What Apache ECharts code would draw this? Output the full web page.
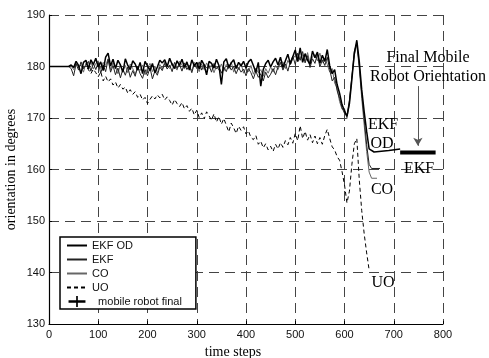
<!DOCTYPE html>
<html>
<head>
<meta charset="utf-8">
<script src="https://cdn.jsdelivr.net/npm/echarts@6/dist/echarts.min.js"></script>
<style>
	html, body { margin: 0; padding: 0; background: #fff; }
	#chart { width: 489px; height: 358px; }
</style>
</head>
<body>
<div id="chart"></div>
<script>
// Pas de temps : un point lu tous les 5 pas, de 0 à 650
var steps = [];
for (var s = 0; s <= 650; s += 5) steps.push(s);

// Orientation (degrés), une ligne = 50 pas
var ekfOd = [
	180, 180, 180, 180, 180, 180, 180, 180, 180, 180.3,
	179.8, 181.0, 180.2, 178.6, 180.8, 181.2, 179.5, 181.3, 180.4, 181.6,
	179.9, 180.9, 179.2, 181.8, 182.6, 180.1, 181.4, 179.6, 181.2, 180.3,
	178.9, 181.5, 180.2, 179.4, 181.1, 180.5, 179.3, 180.8, 178.6, 181.0,
	180.1, 179.2, 180.6, 178.8, 179.9, 181.2, 180.7, 181.3, 180.0, 181.6,
	180.4, 179.6, 181.1, 180.2, 181.4, 179.8, 180.9, 179.3, 181.3, 180.1,
	180.8, 179.5, 181.2, 180.3, 178.4, 181.0, 180.6, 179.7, 181.4, 180.2,
	176.5, 180.9, 181.5, 179.8, 180.7, 181.3, 179.6, 180.8, 180.1, 181.0,
	179.7, 180.9, 181.4, 180.2, 178.9, 180.8, 176.2, 179.4, 180.6, 181.2,
	179.9, 180.9, 181.6, 180.3, 181.8, 179.8, 181.1, 182.4, 180.5, 181.9,
	183.2, 181.0, 183.6, 180.8, 182.5, 181.2, 180.4, 183.0, 181.7, 182.8,
	180.6, 182.2, 181.0, 183.3, 180.1, 178.6, 179.4, 176.5, 174.8, 172.6,
	171.4, 170.3, 172.8, 177.5, 182.6, 185.1, 181.0, 175.5, 171.2, 167.4,
	164.0
];
var ekfOdTail = [[660, 163.4], [690, 163.7], [713, 164.0]];

var ekf = [
	180, 180, 180, 180, 180, 180, 180, 180, 180, 179.6,
	178.2, 180.5, 179.3, 180.9, 179.7, 180.2, 181.0, 179.1, 180.6, 179.4,
	180.8, 178.7, 180.3, 179.0, 181.4, 178.9, 180.2, 178.4, 179.7, 177.8,
	179.5, 178.3, 179.9, 177.9, 179.2, 178.1, 180.0, 178.6, 177.7, 179.4,
	178.2, 179.8, 177.6, 179.1, 178.3, 179.9, 179.2, 180.6, 179.5, 180.3,
	179.0, 180.8, 179.6, 180.4, 179.1, 180.7, 179.4, 180.2, 178.8, 180.5,
	179.6, 180.9, 179.3, 180.4, 179.7, 180.2, 178.9, 180.6, 179.5, 180.1,
	178.7, 179.9, 179.0, 180.4, 179.3, 180.0, 178.6, 179.8, 178.9, 179.5,
	178.2, 179.6, 178.8, 177.6, 179.1, 177.9, 178.6, 177.2, 178.9, 177.8,
	178.5, 179.6, 178.4, 179.9, 180.8, 179.3, 180.5, 179.1, 180.9, 182.0,
	180.4, 182.6, 181.2, 182.9, 180.7, 182.1, 179.8, 181.5, 180.6, 182.4,
	179.9, 181.3, 180.2, 181.8, 179.4, 177.2, 177.9, 175.3, 173.8, 172.0,
	170.9, 170.5, 173.5, 178.2, 183.0, 184.6, 180.2, 174.6, 169.8, 164.8,
	161.0
];
var ekfTail = [[655, 160.2], [672, 160.2]];

var co = [
	180, 180, 180, 180, 180, 180, 180, 180, 180, 180.1,
	179.4, 180.6, 179.9, 180.4, 178.9, 180.7, 180.0, 180.9, 179.5, 180.6,
	181.1, 179.6, 180.8, 180.2, 181.5, 179.4, 180.7, 179.9, 178.6, 180.4,
	179.1, 180.2, 178.8, 180.5, 179.6, 178.5, 179.8, 179.2, 180.3, 178.4,
	179.7, 180.6, 179.0, 180.1, 178.7, 180.4, 179.5, 180.9, 180.2, 179.6,
	180.7, 180.0, 179.3, 181.0, 180.3, 179.5, 180.6, 180.0, 179.2, 180.8,
	180.1, 179.0, 180.5, 179.4, 180.7, 179.6, 180.3, 178.8, 180.1, 179.3,
	180.5, 179.1, 180.4, 179.5, 180.9, 178.9, 180.3, 179.4, 180.6, 178.7,
	179.8, 179.0, 180.2, 178.5, 179.7, 178.8, 179.4, 178.1, 179.6, 178.7,
	179.9, 178.9, 180.2, 179.4, 180.6, 180.9, 179.6, 181.2, 180.3, 181.5,
	182.1, 180.9, 181.7, 182.3, 181.0, 182.7, 180.5, 181.9, 182.3, 181.1,
	182.6, 180.8, 181.6, 180.4, 178.9, 179.6, 176.8, 175.8, 173.2, 171.7,
	171.8, 169.9, 173.0, 177.9, 182.2, 184.2, 179.6, 173.8, 168.6, 163.5,
	159.5
];
var coTail = [[655, 158.3], [666, 158.3]];

var uo = [
	180, 180, 180, 180, 180, 180, 180, 180, 180, 180.2,
	179.7, 180.5, 179.8, 180.3, 179.6, 180.1, 179.4, 178.6, 179.5, 178.8,
	178.0, 179.0, 177.2, 178.1, 177.0, 177.6, 176.4, 177.0, 175.8, 176.5,
	175.6, 176.0, 174.8, 175.5, 174.6, 175.1, 174.0, 174.6, 173.5, 174.0,
	172.8, 173.6, 174.3, 173.7, 174.5, 173.9, 174.6, 173.5, 174.1, 173.4,
	172.5, 173.6, 172.8, 172.2, 173.0, 171.8, 172.4, 171.3, 171.9, 170.6,
	171.5, 170.1, 171.0, 169.8, 171.2, 170.4, 169.6, 170.8, 169.2, 170.3,
	168.8, 169.9, 168.6, 167.3, 169.0, 168.1, 167.0, 168.4, 167.6, 168.3,
	166.9, 167.5, 166.2, 165.8, 166.6, 164.9, 165.5, 164.2, 165.0, 163.8,
	164.5, 163.5, 164.9, 164.0, 165.2, 164.3, 165.6, 164.8, 166.2, 165.1,
	167.0, 165.6, 168.5, 166.0, 167.4, 165.7, 166.8, 165.2, 166.5, 165.0,
	166.2, 164.9, 166.6, 167.8, 166.0, 164.4, 163.8, 162.5, 161.8, 159.6,
	157.0, 153.5, 155.8, 161.0, 165.0, 166.0, 158.0, 152.0, 147.5, 143.8,
	140.5
];

// Orientation finale du robot (segment épais)
var finalSteps = [713, 785];
var finalValue = 163.3;

var xTicks = [0, 800, 100];
var yTicks = [130, 190, 10];

function pairs(values, tail) {
	var out = [];
	for (var i = 0; i < values.length; i++) out.push([steps[i], values[i]]);
	return out.concat(tail || []);
}

var serif = '"Liberation Serif", "Times New Roman", serif';
var sans = '"Liberation Sans", Arial, sans-serif';

var chart = echarts.init(document.getElementById('chart'));

function label(text, x, y) {
	return {
		type: 'text', x: x, y: y, z: 100,
		style: { text: text, font: '16px ' + serif, fill: '#000', align: 'center', verticalAlign: 'middle' }
	};
}

// pas de symbole dans la légende, seulement le trait
var noSymbol = { opacity: 0 };

var option = {
	animation: false,
	grid: { left: 49, right: 46, top: 15, bottom: 34, outerBoundsMode: 'none', containLabel: false },
	xAxis: {
		type: 'value', min: xTicks[0], max: xTicks[1], interval: xTicks[2],
		name: 'time steps', nameLocation: 'middle', nameGap: 14,
		nameTextStyle: { fontFamily: serif, fontSize: 14, color: '#000', padding: [0, 26, 0, 0] },
		axisLine: { lineStyle: { color: '#000', width: 1.2 } },
		axisTick: { inside: true, length: 3, lineStyle: { color: '#000' } },
		axisLabel: { fontFamily: sans, fontSize: 11, color: '#111', margin: 5 },
		splitLine: { show: true, lineStyle: { color: '#444', width: 1, type: [10, 6] } }
	},
	yAxis: {
		type: 'value', min: yTicks[0], max: yTicks[1], interval: yTicks[2],
		name: 'orientation in degrees', nameLocation: 'middle', nameGap: 31,
		nameMoveOverlap: false,
		nameTextStyle: { fontFamily: serif, fontSize: 14, color: '#000' },
		axisLine: { show: true, lineStyle: { color: '#000', width: 1.2 } },
		axisTick: { show: true, inside: true, length: 3, lineStyle: { color: '#000' } },
		axisLabel: { fontFamily: sans, fontSize: 11, color: '#111', margin: 4 },
		splitLine: { show: true, lineStyle: { color: '#444', width: 1, type: [10, 6] } }
	},
	legend: {
		orient: 'vertical', left: 60, top: 237,
		padding: [3, 14, 2, 6], itemGap: 3, itemWidth: 20, itemHeight: 11,
		borderColor: '#000', borderWidth: 1.5, backgroundColor: '#fff',
		textStyle: { fontFamily: sans, fontSize: 11, color: '#111' },
		data: [
			{ name: 'EKF OD', itemStyle: noSymbol },
			{ name: 'EKF', itemStyle: noSymbol },
			{ name: 'CO', itemStyle: noSymbol },
			{ name: 'UO', itemStyle: noSymbol },
			{ name: 'mobile robot final', icon: 'path://M0,5L20,5L20,8L0,8Z M9,0L11,0L11,13L9,13Z' }
		],
		formatter: function (name) {
			return name === 'mobile robot final' ? '  ' + name : name;
		}
	},
	graphic: [
		label('Final Mobile', 428, 58),
		label('Robot Orientation', 428, 77),
		label('EKF', 383, 125),
		label('OD', 382, 144),
		label('EKF', 419, 169),
		label('CO', 382, 190),
		label('UO', 383, 283)
	],
	series: [
		{
			name: 'UO', type: 'line', symbol: 'none', z: 2,
			lineStyle: { color: '#000', width: 1, type: [4, 3] },
			itemStyle: { color: '#000' },
			data: pairs(uo)
		},
		{
			name: 'CO', type: 'line', symbol: 'none', z: 3,
			lineStyle: { color: '#666', width: 1 },
			itemStyle: { color: '#666' },
			data: pairs(co, coTail)
		},
		{
			name: 'EKF', type: 'line', symbol: 'none', z: 4,
			lineStyle: { color: '#222', width: 1 },
			itemStyle: { color: '#222' },
			data: pairs(ekf, ekfTail)
		},
		{
			name: 'EKF OD', type: 'line', symbol: 'none', z: 5,
			lineStyle: { color: '#000', width: 1.5 },
			itemStyle: { color: '#000' },
			data: pairs(ekfOd, ekfOdTail)
		},
		{
			name: 'mobile robot final', type: 'line', symbol: 'none', z: 6,
			lineStyle: { color: '#000', width: 4 },
			itemStyle: { color: '#000' },
			data: [[finalSteps[0], finalValue], [finalSteps[1], finalValue]],
			markLine: {
				silent: true, symbol: ['none', 'arrow'], symbolSize: [7, 8],
				label: { show: false },
				lineStyle: { color: '#555', width: 1, type: 'solid' },
				data: [[{ coord: [749, 176.2] }, { coord: [749, 164.6] }]]
			}
		}
	]
};

chart.setOption(option);
</script>
</body>
</html>
